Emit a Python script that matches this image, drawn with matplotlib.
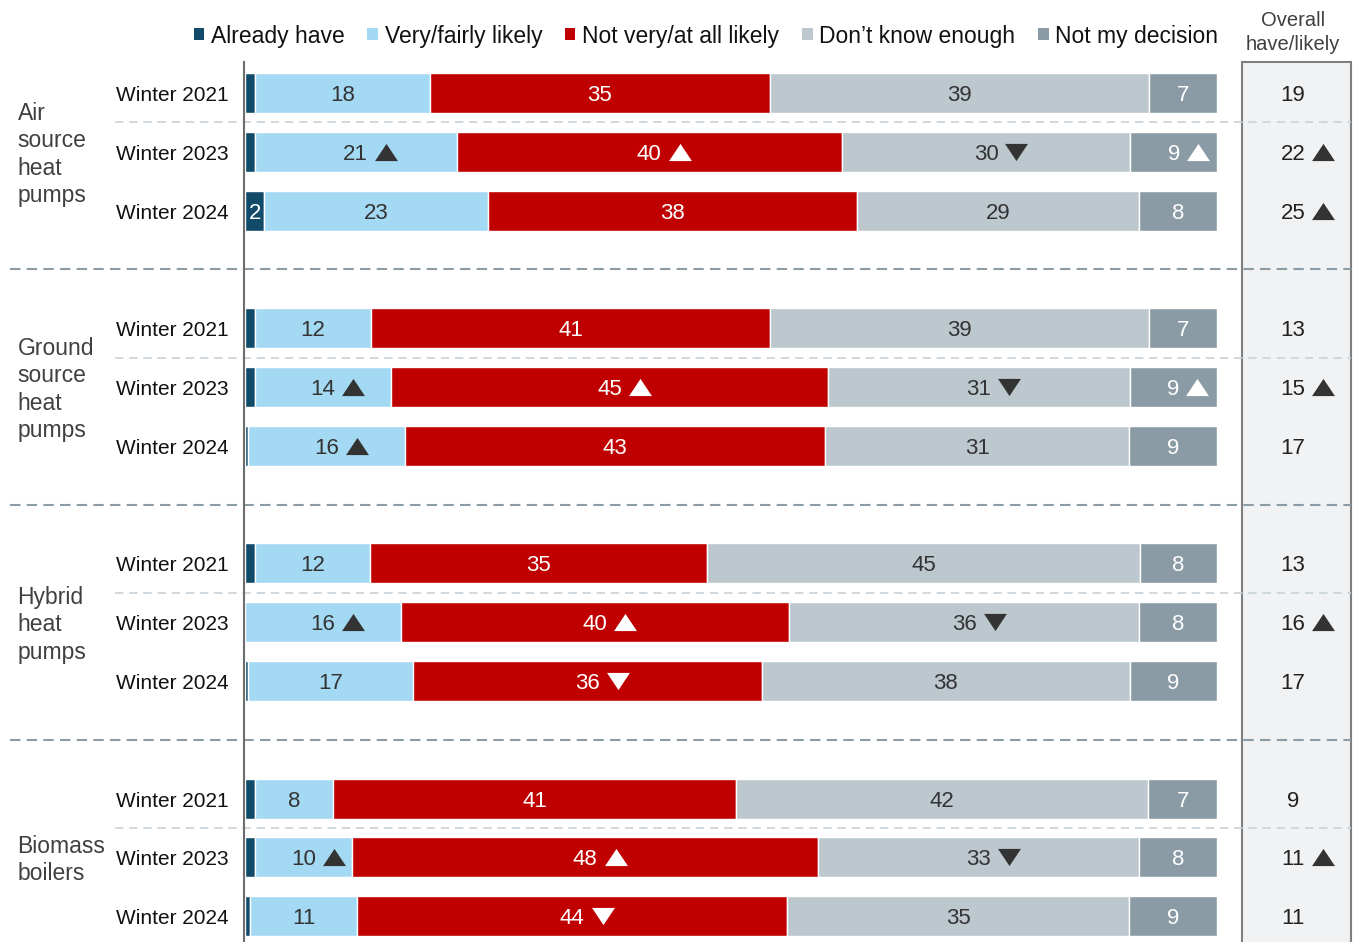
import numpy as np
import matplotlib.pyplot as plt
from matplotlib.patches import Patch, Rectangle
from matplotlib.path import Path
from matplotlib.transforms import offset_copy

plt.rcParams['font.family'] = ['Liberation Sans', 'DejaVu Sans']

# data (percent), one entry per row: 3 waves x 4 technologies
groups = ['Air\nsource\nheat\npumps', 'Ground\nsource\nheat\npumps',
          'Hybrid\nheat\npumps', 'Biomass\nboilers']
years = ['Winter 2021', 'Winter 2023', 'Winter 2024']
categories = ['Already have', 'Very/fairly likely', 'Not very/at all likely',
              'Don\u2019t know enough', 'Not my decision']

already = [1, 1, 2, 1, 1, 0.3, 1, 0, 0.3, 1, 1, 0.5]
likely = [18, 21, 23, 12, 14, 16, 12, 16, 17, 8, 10, 11]
not_likely = [35, 40, 38, 41, 45, 43, 35, 40, 36, 41, 48, 44]
dont_know = [39, 30, 29, 39, 31, 31, 45, 36, 38, 42, 33, 35]
not_mine = [7, 9, 8, 7, 9, 9, 8, 8, 9, 7, 8, 9]
overall = [19, 22, 25, 13, 15, 17, 13, 16, 17, 9, 11, 11]

# significance arrows (u = up, d = down)
likely_sig = ['', 'u', '', '', 'u', 'u', '', 'u', '', '', 'u', '']
not_likely_sig = ['', 'u', '', '', 'u', '', '', 'u', 'd', '', 'u', 'd']
dont_know_sig = ['', 'd', '', '', 'd', '', '', 'd', '', '', 'd', '']
not_mine_sig = ['', 'u', '', '', 'u', '', '', '', '', '', '', '']
overall_sig = ['', 'u', 'u', '', 'u', '', '', 'u', '', '', 'u', '']

colors = ['#124b69', '#a3d9f3', '#c00000', '#bdc8ce', '#8a9ba5']
txt_colors = ['white', '#333333', 'white', '#333333', 'white']

W, H = 1356, 942
fig = plt.figure(figsize=(W / 100, H / 100), dpi=100)
ax = fig.add_axes([0, 0, 1, 1])
ax.axis('off')

# pixel -> data mapping: x 0..100 = 245..1217 px, rows 58.8 px apart
px = 9.72
step = 58.8
x0 = 245
ax.set_xlim(-x0 / px, (W - x0) / px)
ax.set_ylim((H - 93) / step, -93 / step)
dy = 2.5 / step  # small nudge so text sits like the original

# wide flat triangles for the significance marks
up_tri = Path([(-1, -0.75), (1, -0.75), (0, 0.75), (-1, -0.75)],
              [Path.MOVETO, Path.LINETO, Path.LINETO, Path.CLOSEPOLY])
down_tri = Path([(-1, 0.75), (1, 0.75), (0, -0.75), (-1, 0.75)],
                [Path.MOVETO, Path.LINETO, Path.LINETO, Path.CLOSEPOLY])


def sig_mark(x, y, label, sig, color):
    off = len(label) * 0.556 * fs / 2 + 13
    tr = offset_copy(ax.transData, fig=fig, x=off, y=0, units='points')
    ax.plot([x], [y], marker=up_tri if sig == 'u' else down_tri, ms=16.5,
            color=color, mew=0, transform=tr, zorder=6)


n = len(likely)
ypos = np.array([4 * (i // 3) + i % 3 for i in range(n)])
series = [already, likely, not_likely, dont_know, not_mine]
sigs = [None, likely_sig, not_likely_sig, dont_know_sig, not_mine_sig]

vals = np.array(series, dtype=float)
widths = vals / vals.sum(axis=0) * 100
fs = 16
left = np.zeros(n)
for k in range(5):
    ax.barh(ypos, widths[k], left=left, height=0.68, color=colors[k],
            edgecolor='white', linewidth=1)
    for i in range(n):
        v = series[k][i]
        if v < 2:
            continue
        cx = left[i] + widths[k][i] / 2
        ax.text(cx, ypos[i] + dy, str(v), ha='center', va='center',
                fontsize=fs, color=txt_colors[k])
        if sigs[k] is not None and sigs[k][i]:
            sig_mark(cx, ypos[i], str(v), sigs[k][i], txt_colors[k])
    left += widths[k]

# row and group labels
for i in range(n):
    ax.text(-1.7, ypos[i] + dy, years[i % 3], ha='right', va='center',
            fontsize=15, color='#111111')
for g in range(4):
    ax.text(-23.4, 4 * g + 1 + dy, groups[g], ha='left', va='center',
            fontsize=16.5, color='#404040', linespacing=1.25)

# right panel with overall have/likely
top = -31 / step
xl, xr = (1242 - x0) / px, (1351 - x0) / px
ax.add_patch(Rectangle((xl, top), xr - xl, 16, facecolor='#f0f2f4',
                       edgecolor='#7f7f7f', linewidth=1.5, clip_on=False, zorder=0))
xc = (1293 - x0) / px
ax.text(xc, top - 0.5, 'Overall\nhave/likely', ha='center', va='center',
        fontsize=14.5, color='#404040', linespacing=1.35)
for i in range(n):
    ax.text(xc, ypos[i] + dy, str(overall[i]), ha='center', va='center',
            fontsize=fs, color='#222222')
    if overall_sig[i]:
        sig_mark(xc, ypos[i], str(overall[i]), overall_sig[i], '#333333')

# separators
for g in range(3):
    ax.plot([(10 - x0) / px, xr], [4 * g + 3] * 2, color='#8c9ca6', lw=1.5,
            linestyle=(0, (5, 3)), zorder=1)
for g in range(4):
    ax.plot([(115 - x0) / px, xr], [4 * g + 0.5] * 2, color='#c8d2d8', lw=1.2,
            linestyle=(0, (5, 3.5)), zorder=1)

# vertical axis line
ax.plot([-0.1, -0.1], [top, 16], color='#6e6e6e', lw=1.5, zorder=5)

handles = [Patch(facecolor=c) for c in colors]
fig.legend(handles, categories, loc='center', bbox_to_anchor=(706 / W, 1 - 36 / H),
           ncol=5, frameon=False, fontsize=16.5, handlelength=0.45,
           handleheight=0.45, handletextpad=0.3, columnspacing=1.0,
           labelcolor='#111111')

fig.savefig('out.png', dpi=100)
